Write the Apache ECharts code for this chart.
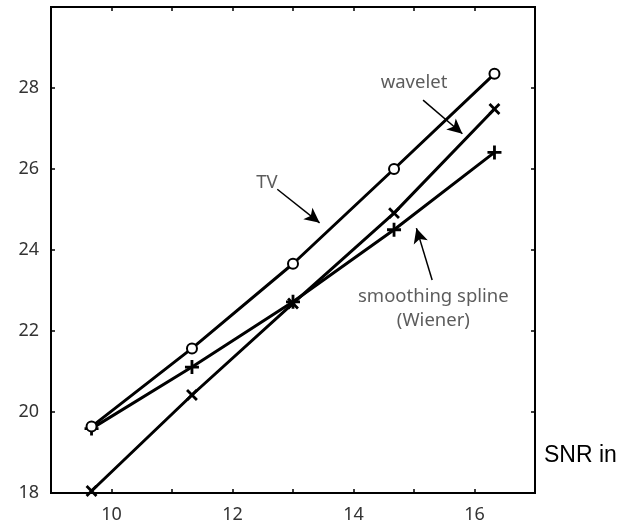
<!DOCTYPE html>
<html>
<head>
<meta charset="UTF-8">
<script type="text/javascript" src="https://cdn.jsdelivr.net/npm/echarts@6/dist/echarts.min.js"></script>
<title>SNR chart</title>
<style>
	body { margin: 0; background: #fff; }
	#main { width: 631px; height: 527px; }
</style>
</head>
<body>
<div id="main"></div>
<script>
	// input SNR (x) and output SNR per method (y)
	var snrIn = [9.67, 11.33, 13.0, 14.67, 16.33];
	var tvOut = [19.64, 21.57, 23.66, 26.0, 28.35];
	var waveletOut = [18.05, 20.42, 22.68, 24.91, 27.48];
	var splineOut = [19.59, 21.11, 22.72, 24.5, 26.41];

	var xTickLabels = [10, 12, 14, 16];
	var yTickLabels = [18, 20, 22, 24, 26, 28];

	function pairs(ys) {
		var out = [];
		for (var i = 0; i < snrIn.length; i++) {
			out.push([snrIn[i], ys[i]]);
		}
		return out;
	}

	var plusPath = 'path://M4,0H6V4H10V6H6V10H4V6H0V4H4Z';
	var textFont = 'Noto Sans';

	var myChart = echarts.init(document.getElementById('main'));
	myChart.setOption({
		animation: false,
		grid: {
			left: 51,
			top: 7,
			width: 484,
			height: 486,
			show: true,
			borderColor: '#000',
			borderWidth: 2
		},
		xAxis: [{
			type: 'value',
			min: 9,
			max: 17,
			interval: 1,
			axisLine: { lineStyle: { color: '#000', width: 2 } },
			axisTick: { inside: true, length: 4, lineStyle: { color: '#000', width: 1.5 } },
			splitLine: { show: false },
			axisLabel: {
				color: '#333', fontSize: 18, fontFamily: textFont, margin: 13,
				formatter: function (v) {
					return xTickLabels.indexOf(v) >= 0 ? String(v) : '';
				}
			}
		}, {
			type: 'value',
			position: 'top',
			min: 9,
			max: 17,
			interval: 1,
			axisLine: { lineStyle: { color: '#000', width: 2 } },
			axisTick: { inside: true, length: 4, lineStyle: { color: '#000', width: 1.5 } },
			splitLine: { show: false },
			axisLabel: { show: false }
		}],
		yAxis: [{
			type: 'value',
			min: 18,
			max: 30,
			interval: 2,
			axisLine: { show: true, lineStyle: { color: '#000', width: 2 } },
			axisTick: { show: true, inside: true, length: 4, lineStyle: { color: '#000', width: 1.5 } },
			splitLine: { show: false },
			axisLabel: {
				color: '#333', fontSize: 18, fontFamily: textFont, margin: 12,
				formatter: function (v) {
					return yTickLabels.indexOf(v) >= 0 ? String(v) : '';
				}
			}
		}, {
			type: 'value',
			position: 'right',
			min: 18,
			max: 30,
			interval: 2,
			axisLine: { show: true, lineStyle: { color: '#000', width: 2 } },
			axisTick: { show: true, inside: true, length: 4, lineStyle: { color: '#000', width: 1.5 } },
			splitLine: { show: false },
			axisLabel: { show: false }
		}],
		graphic: [{
			type: 'text',
			left: 544,
			top: 444,
			style: { text: 'SNR in', fill: '#000', font: '23px "Liberation Sans"' }
		}],
		series: [
			{
				name: 'wavelet',
				type: 'line',
				data: pairs(waveletOut),
				symbol: plusPath,
				symbolRotate: 45,
				symbolSize: 14,
				lineStyle: { color: '#000', width: 3 },
				itemStyle: { color: '#000' },
				z: 3
			},
			{
				name: 'smoothing spline',
				type: 'line',
				data: pairs(splineOut),
				symbol: plusPath,
				symbolSize: 14,
				lineStyle: { color: '#000', width: 3 },
				itemStyle: { color: '#000' },
				z: 3
			},
			{
				name: 'TV',
				type: 'line',
				data: pairs(tvOut),
				symbol: 'emptyCircle',
				symbolSize: 10,
				lineStyle: { color: '#000', width: 3 },
				itemStyle: { color: '#000', borderColor: '#000', borderWidth: 3 },
				z: 4
			},
			{
				// text labels and arrows
				name: 'notes',
				type: 'scatter',
				symbolSize: 0,
				silent: true,
				label: {
					show: true,
					position: 'inside',
					formatter: '{b}',
					color: '#333',
					fontSize: 18.5,
					fontFamily: textFont,
					lineHeight: 24
				},
				data: [
					{ name: 'wavelet', value: [15.0, 28.12] },
					{ name: 'TV', value: [12.57, 25.67] },
					{ name: 'smoothing spline\n(Wiener)', value: [15.32, 22.55] }
				],
				markLine: {
					silent: true,
					symbol: ['none', 'arrow'],
					symbolSize: [11, 15],
					label: { show: false },
					lineStyle: { color: '#000', width: 1.5, type: 'solid' },
					data: [
						[{ coord: [15.15, 27.7] }, { coord: [15.8, 26.87] }],
						[{ coord: [12.74, 25.5] }, { coord: [13.44, 24.67] }],
						[{ coord: [15.3, 23.26] }, { coord: [15.04, 24.54] }]
					]
				}
			}
		]
	});
</script>
</body>
</html>
